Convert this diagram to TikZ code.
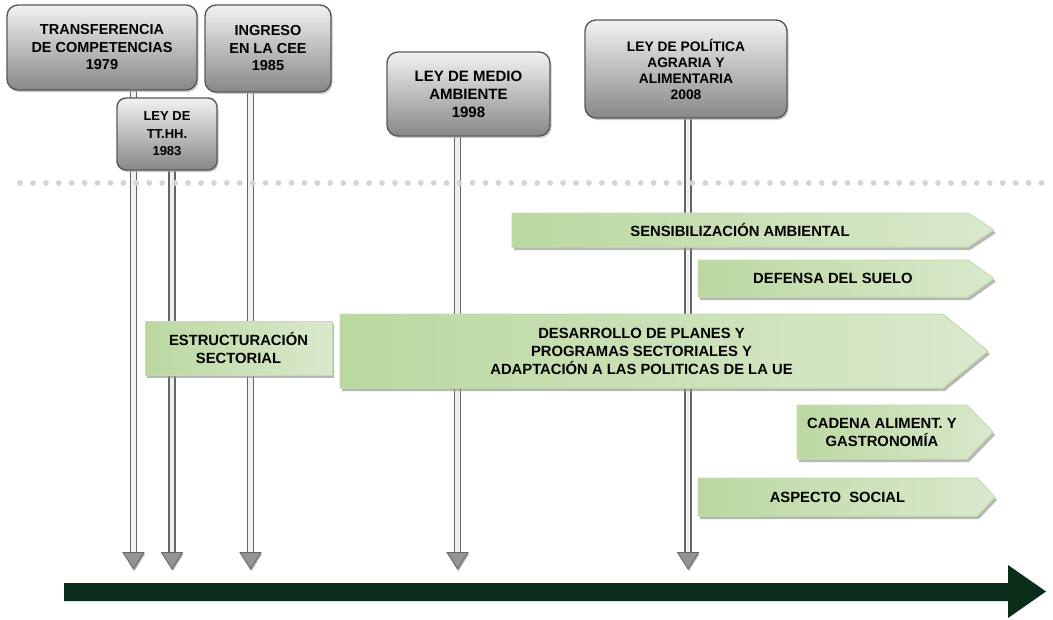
\documentclass[tikz,border=0pt]{standalone}
\usepackage{fontspec}
\setmainfont{Liberation Sans}
\usetikzlibrary{shadows}
\definecolor{axisgreen}{HTML}{0A2E19}
\definecolor{gL}{HTML}{BBD8A0}
\definecolor{gR}{HTML}{D9E9CD}
\definecolor{gBorder}{HTML}{C3DEAE}
\definecolor{dotgray}{HTML}{D4D4D4}
\definecolor{stemline}{HTML}{666666}
\pgfdeclarelayer{bg}
\pgfsetlayers{bg,main}
\tikzset{
  graybox/.style={draw=black!65, line width=1.4pt, rounded corners=11pt,
    top color=black!5, bottom color=black!47, align=center, inner sep=2pt,
    drop shadow={shadow xshift=1.5pt, shadow yshift=-2pt, fill=black!35, opacity=0.6}},
  stemline/.style={draw=stemline, line width=1.3pt, double=black!6, double distance=4.6pt},
  stemhead/.style={fill=black!42, draw=black!60, line width=0.8pt, line join=miter},
  gshape/.style={draw=gBorder, line width=1pt, left color=gL, right color=gR},
  gshadow/.style={fill=black!40, opacity=0.7},
  gtext/.style={align=center, inner sep=0pt, font=\bfseries\fontsize{14.8}{18}\selectfont},
}
\newcommand{\garrow}[7]{%
  \fill[gshadow] (#2+2,#3+3) -- (#4+2,#3+3) -- (#5+2,{(#3+#6)/2+3}) -- (#4+2,#6+3) -- (#2+2,#6+3) -- cycle;
  \path[gshape] (#2,#3) -- (#4,#3) -- (#5,{(#3+#6)/2}) -- (#4,#6) -- (#2,#6) -- cycle;
  \node[gtext] (#1) at ({(#2+#4)/2},{(#3+#6)/2}) {#7};
}
\begin{document}
\begin{tikzpicture}[x=1pt,y=-1pt]
\useasboundingbox (0,0) rectangle (1053,619);

% event boxes
\node[graybox, minimum width=190pt, minimum height=85pt,
  font=\bfseries\fontsize{14.5}{17.5}\selectfont] (b1979) at (102,47.5)
  {TRANSFERENCIA\\DE COMPETENCIAS\\1979};
\node[graybox, minimum width=126pt, minimum height=87pt,
  font=\bfseries\fontsize{14.5}{17.5}\selectfont] (b1985) at (268,48.5)
  {INGRESO\\EN LA CEE\\1985};
\node[graybox, minimum width=100pt, minimum height=72pt, rounded corners=9pt,
  font=\bfseries\fontsize{13}{17.5}\selectfont] (b1983) at (167,134)
  {LEY DE\\TT.HH.\\1983};
\node[graybox, minimum width=163pt, minimum height=84pt,
  font=\bfseries\fontsize{15}{18}\selectfont] (b1998) at (468.5,94)
  {LEY DE MEDIO\\AMBIENTE\\1998};
\node[graybox, minimum width=202pt, minimum height=98pt,
  font=\bfseries\fontsize{13.8}{16}\selectfont] (b2008) at (686,69)
  {LEY DE POLÍTICA\\AGRARIA Y\\ALIMENTARIA\\2008};

% stem end points
\coordinate (s1) at (133.5,553);
\coordinate (s2) at (172,553);
\coordinate (s3) at (250.5,553);
\coordinate (s4) at (457.5,553);
\coordinate (s5) at (688,553);

\begin{pgfonlayer}{bg}
  \draw[stemline] (b1979.south -| s1) -- (s1);
  \draw[stemline] (b1983.south -| s2) -- (s2);
  \draw[stemline] (b1985.south -| s3) -- (s3);
  \draw[stemline] (b1998.south -| s4) -- (s4);
  \draw[stemline] (b2008.south -| s5) -- (s5);
  \foreach \i in {0,...,79} \fill[dotgray] (20+\i*12.93,183) circle (2.9pt);
\end{pgfonlayer}

% stem arrowheads
\foreach \s in {s1,s2,s3,s4,s5} {
  \fill[black!30] (\s) ++(-9.5,1) -- ++(21,0) -- ++(-10.5,17) -- cycle;
  \path[stemhead] (\s) ++(-10.5,-0.5) -- ++(21,0) -- ++(-10.5,16.5) -- cycle;
}

% green bars
\garrow{sens}{512}{213}{968}{994}{247}{SENSIBILIZACIÓN AMBIENTAL}
\garrow{suelo}{698}{260}{968}{994}{297}{DEFENSA DEL SUELO}
\fill[gshadow] (147,324) rectangle (334,378);
\node[gshape, minimum width=187pt, minimum height=54pt, gtext] (estr) at (238.5,348)
  {ESTRUCTURACIÓN\\SECTORIAL};
\garrow{desa}{340}{314}{943}{988}{388}{DESARROLLO DE PLANES Y\\PROGRAMAS SECTORIALES Y\\ADAPTACIÓN A LAS POLITICAS DE LA UE}
\garrow{cade}{797}{405}{967}{993}{459}{CADENA ALIMENT. Y\\GASTRONOMÍA}
\garrow{soc}{698}{478}{977}{995}{516}{ASPECTO\ \ SOCIAL}

% time axis
\fill[axisgreen] (64,583) -- (1008,583) -- (1008,565) -- (1046,591.5)
  -- (1008,618) -- (1008,601) -- (64,601) -- cycle;
\end{tikzpicture}
\end{document}
